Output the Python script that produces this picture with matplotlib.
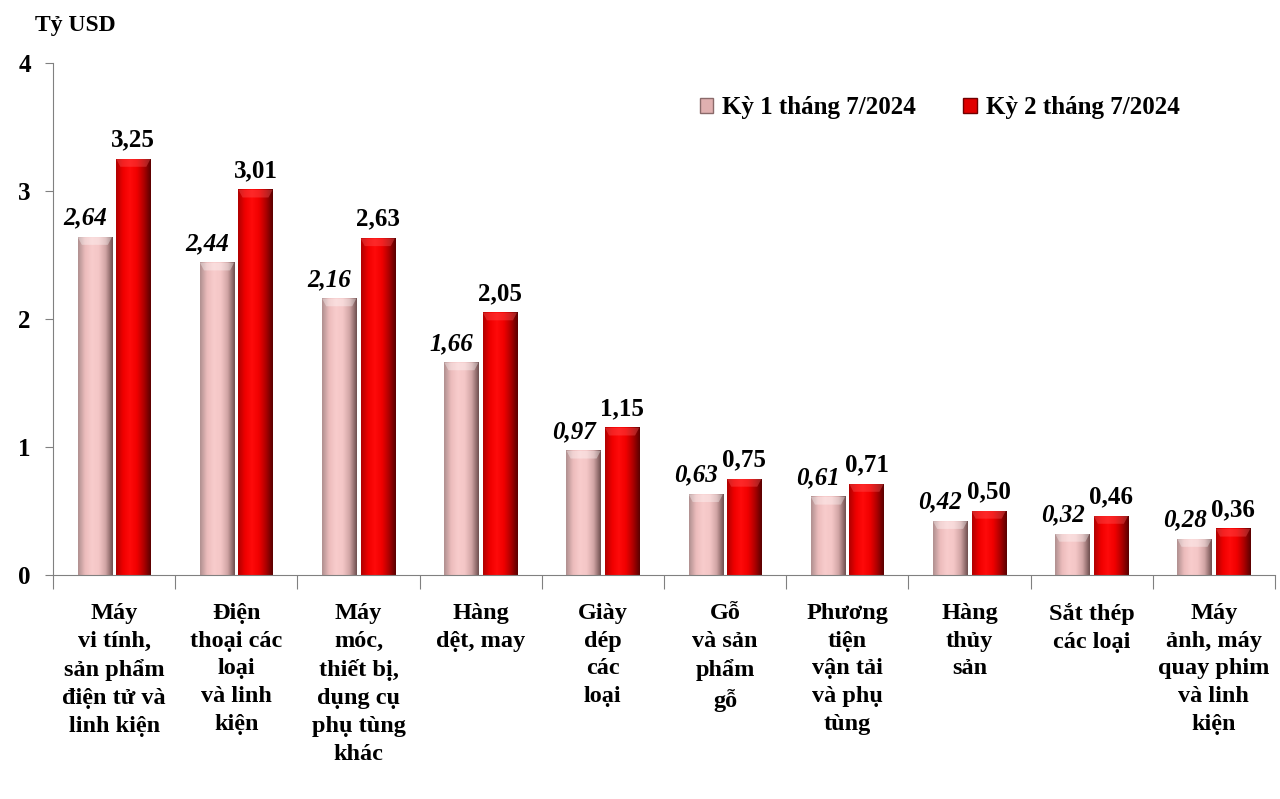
import matplotlib.pyplot as plt
import numpy as np
from matplotlib.colors import LinearSegmentedColormap
from matplotlib.patches import Patch

plt.rcParams['font.family'] = ['Liberation Serif', 'DejaVu Serif']

categories = [
    "Máy\nvi tính,\nsản phẩm\nđiện tử và\nlinh kiện",
    "Điện\nthoại các\nloại\nvà linh\nkiện",
    "Máy\nmóc,\nthiết bị,\ndụng cụ\nphụ tùng\nkhác",
    "Hàng\ndệt, may",
    "Giày\ndép\ncác\nloại",
    "Gỗ\nvà sản\nphẩm\ngỗ",
    "Phương\ntiện\nvận tải\nvà phụ\ntùng",
    "Hàng\nthủy\nsản",
    "Sắt thép\ncác loại",
    "Máy\nảnh, máy\nquay phim\nvà linh\nkiện",
]
ky1 = [2.64, 2.44, 2.16, 1.66, 0.97, 0.63, 0.61, 0.42, 0.32, 0.28]
ky2 = [3.25, 3.01, 2.63, 2.05, 1.15, 0.75, 0.71, 0.50, 0.46, 0.36]
series_names = ["Kỳ 1 tháng 7/2024", "Kỳ 2 tháng 7/2024"]

pink_cmap = LinearSegmentedColormap.from_list(
    "pink", ["#b09090", "#ecbcbc", "#f8cccc", "#f4c6c6", "#d0a4a4", "#705050"])
red_cmap = LinearSegmentedColormap.from_list(
    "red", ["#b00000", "#f00000", "#ff0a0a", "#f00000", "#b00000", "#5a0000"])

fig = plt.figure(figsize=(12.8, 7.99), dpi=100)
ax = fig.add_axes([0.0414, 0.2804, 0.9546, 0.6406])

x = np.arange(len(categories))
w = 0.28
gap = 0.035
grad = np.linspace(0, 1, 64).reshape(1, -1)


def gradient_bars(xs, vals, cmap, base):
    for xc, v in zip(xs, vals):
        x0, x1 = xc - w / 2, xc + w / 2
        ax.imshow(grad, cmap=cmap, extent=[x0, x1, 0, v], aspect='auto',
                  origin='lower', zorder=2, interpolation='bicubic')
        # top bevel
        ax.fill([x0, x1, x1 - w * 0.12, x0 + w * 0.12], [v, v, v - 0.06, v - 0.06],
                color=base, alpha=0.35, zorder=3, lw=0)


x1s = x - w / 2 - gap / 2
x2s = x + w / 2 + gap / 2
gradient_bars(x1s, ky1, pink_cmap, "#ffffff")
gradient_bars(x2s, ky2, red_cmap, "#ff6060")

for xc, v in zip(x1s, ky1):
    ax.text(xc - 0.08, v + 0.06, f"{v:.2f}".replace(".", ","), ha='center', va='bottom',
            fontsize=18, fontweight='bold', fontstyle='italic')
for xc, v in zip(x2s, ky2):
    ax.text(xc, v + 0.06, f"{v:.2f}".replace(".", ","), ha='center', va='bottom',
            fontsize=18, fontweight='bold')

ax.set_xlim(-0.5, len(categories) - 0.5)
ax.set_ylim(0, 4)
ax.set_yticks([0, 1, 2, 3, 4])
ax.set_yticklabels(["0", "1", "2", "3", "4"], fontsize=18, fontweight='bold')
ax.set_xticks(np.arange(len(categories) + 1) - 0.5)
ax.set_xticklabels([])
ax.set_xticks(x, minor=True)
ax.set_xticklabels(categories, minor=True, fontsize=17.5, fontweight='bold',
                   linespacing=1.43, va='top')
ax.tick_params(axis='x', which='minor', length=0, pad=20)
ax.tick_params(axis='x', which='major', length=10, color='#808080', direction='out')
ax.tick_params(axis='y', length=6, color='#808080', direction='out', pad=10)
for s in ['top', 'right']:
    ax.spines[s].set_visible(False)
for s in ['left', 'bottom']:
    ax.spines[s].set_color('#808080')

fig.text(0.027, 0.968, "Tỷ USD", fontsize=17, fontweight='bold', ha='left', va='center')

handles = [Patch(facecolor="#e0b0b0", edgecolor="#8a6a6a"),
           Patch(facecolor="#e00000", edgecolor="#700000")]
fig.legend(handles, series_names, loc='center left', bbox_to_anchor=(0.529, 0.865),
           ncol=2, frameon=False, prop={'weight': 'bold', 'size': 18},
           handlelength=0.55, handleheight=0.55, handletextpad=0.35, columnspacing=1.9)

fig.savefig("out.png", dpi=100)
